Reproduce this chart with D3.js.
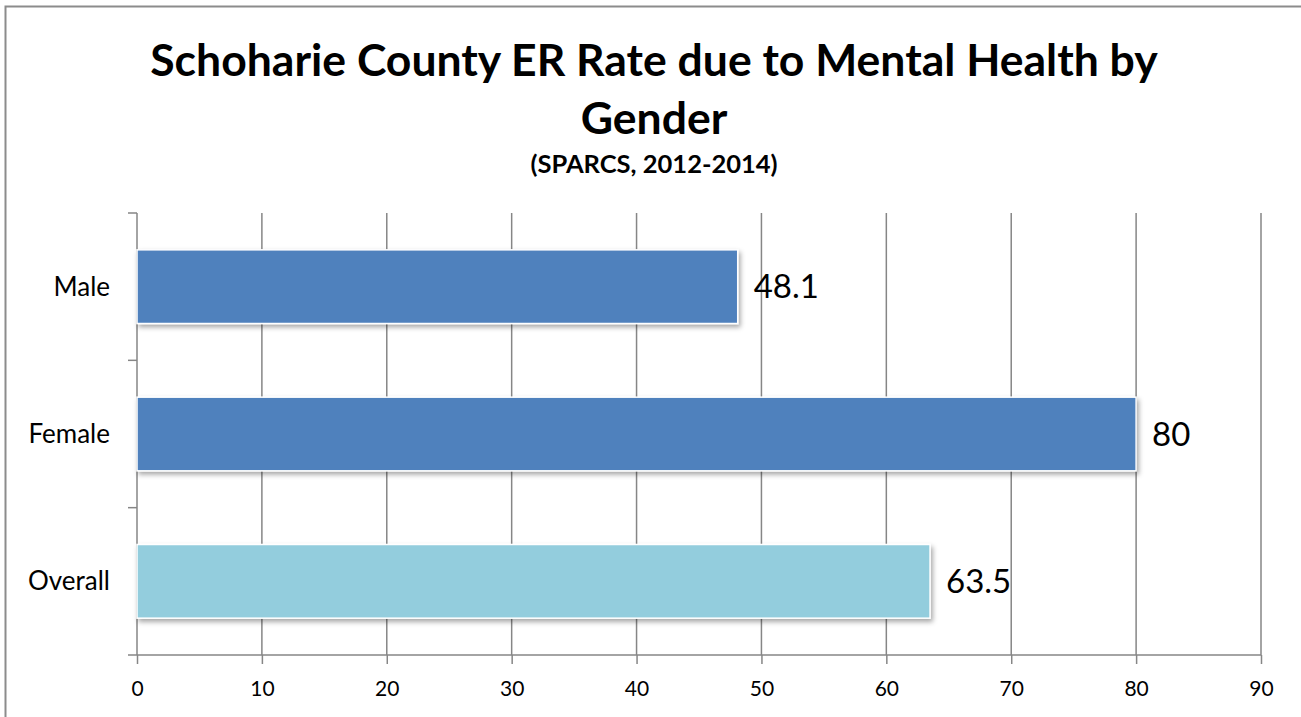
<!DOCTYPE html>
<html>
<head>
<meta charset="utf-8">
<script src="https://cdn.jsdelivr.net/npm/d3@7"></script>
<style>
  body { margin: 0; background: #fff; }
  svg { display: block; }
  text { font-family: Lato, "Open Sans", sans-serif; fill: #000; }
</style>
</head>
<body>
<svg width="1301" height="717"></svg>
<script>
const categories = ['Male', 'Female', 'Overall'];
const values = [48.1, 80, 63.5];
const barColors = ['#4f81bd', '#4f81bd', '#93cddd'];
const xTicks = [0, 10, 20, 30, 40, 50, 60, 70, 80, 90];
const titleLines = ['Schoharie County ER Rate due to Mental Health by', 'Gender'];
const subtitle = '(SPARCS, 2012-2014)';

const svg = d3.select('svg');
const gridColor = '#868686';

// chart frame
svg.append('rect')
  .attr('x', 5.5).attr('y', 6.5)
  .attr('width', 1310).attr('height', 730)
  .attr('fill', 'none')
  .attr('stroke', '#8c8c8c')
  .attr('stroke-width', 2);

// shadow for bars
const defs = svg.append('defs');
const f = defs.append('filter').attr('id', 'shadow')
  .attr('x', '-5%').attr('y', '-20%').attr('width', '115%').attr('height', '160%');
f.append('feDropShadow')
  .attr('dx', 2).attr('dy', 3).attr('stdDeviation', 2.5)
  .attr('flood-color', '#000').attr('flood-opacity', 0.35);

const plotLeft = 137, plotRight = 1261, plotTop = 213, plotBottom = 655;

var x = d3.scaleLinear().domain([0, 90]).range([plotLeft, plotRight]);
var y = d3.scaleBand().domain(categories).range([plotTop, plotBottom]).paddingInner(0.5).paddingOuter(0.25);

// title
const title = svg.append('text')
  .attr('text-anchor', 'middle')
  .style('font-weight', 'bold')
  .style('font-size', '44.5px');
titleLines.forEach(function(line, i) {
  title.append('tspan').attr('x', 654).attr('y', 76 + i * 58).text(line);
});

svg.append('text')
  .attr('x', 654).attr('y', 173)
  .attr('text-anchor', 'middle')
  .style('font-weight', 'bold')
  .style('font-size', '25.5px')
  .text(subtitle);

// vertical gridlines
svg.append('g').selectAll('line')
  .data(xTicks.slice(1))
  .enter().append('line')
  .attr('x1', d => x(d)).attr('x2', d => x(d))
  .attr('y1', plotTop).attr('y2', plotBottom)
  .attr('stroke', gridColor).attr('stroke-width', 1.5);

// x axis
const xAxis = svg.append('g')
  .attr('transform', 'translate(0,' + plotBottom + ')')
  .call(d3.axisBottom(x).tickValues(xTicks).tickSize(9).tickSizeOuter(0).tickPadding(17));
xAxis.select('.domain').attr('stroke', gridColor).attr('stroke-width', 1.5)
  .attr('d', 'M' + (plotLeft - 9) + ',0H' + plotRight);
xAxis.selectAll('.tick line').attr('stroke', gridColor).attr('stroke-width', 1.5);
xAxis.selectAll('.tick text')
  .style('font-family', 'Lato, sans-serif').style('font-size', '21px').attr('fill', '#000');

// y axis
const step = (plotBottom - plotTop) / categories.length;
const yg = svg.append('g');
yg.append('line')
  .attr('x1', plotLeft).attr('x2', plotLeft).attr('y1', plotTop).attr('y2', plotBottom)
  .attr('stroke', gridColor).attr('stroke-width', 1.5);
yg.selectAll('line.tk')
  .data(d3.range(categories.length))
  .enter().append('line').attr('class', 'tk')
  .attr('x1', plotLeft - 9).attr('x2', plotLeft)
  .attr('y1', i => plotTop + i * step).attr('y2', i => plotTop + i * step)
  .attr('stroke', gridColor).attr('stroke-width', 1.5);
yg.selectAll('text')
  .data(categories)
  .enter().append('text')
  .attr('x', 110)
  .attr('y', d => y(d) + y.bandwidth() / 2)
  .attr('dy', '0.35em')
  .attr('text-anchor', 'end')
  .style('font-size', '26px')
  .text(d => d);

// bars
svg.append('g').selectAll('rect')
  .data(categories)
  .enter().append('rect')
  .attr('x', x(0))
  .attr('y', d => y(d))
  .attr('width', (d, i) => x(values[i]) - x(0))
  .attr('height', y.bandwidth())
  .attr('fill', (d, i) => barColors[i])
  .attr('stroke', '#fff').attr('stroke-width', 1.5)
  .attr('filter', 'url(#shadow)');

// value labels
svg.append('g').selectAll('text')
  .data(categories)
  .enter().append('text')
  .attr('x', (d, i) => x(values[i]) + 16)
  .attr('y', d => y(d) + y.bandwidth() / 2)
  .attr('dy', '0.35em')
  .style('font-size', '33px')
  .text((d, i) => values[i]);
</script>
</body>
</html>
